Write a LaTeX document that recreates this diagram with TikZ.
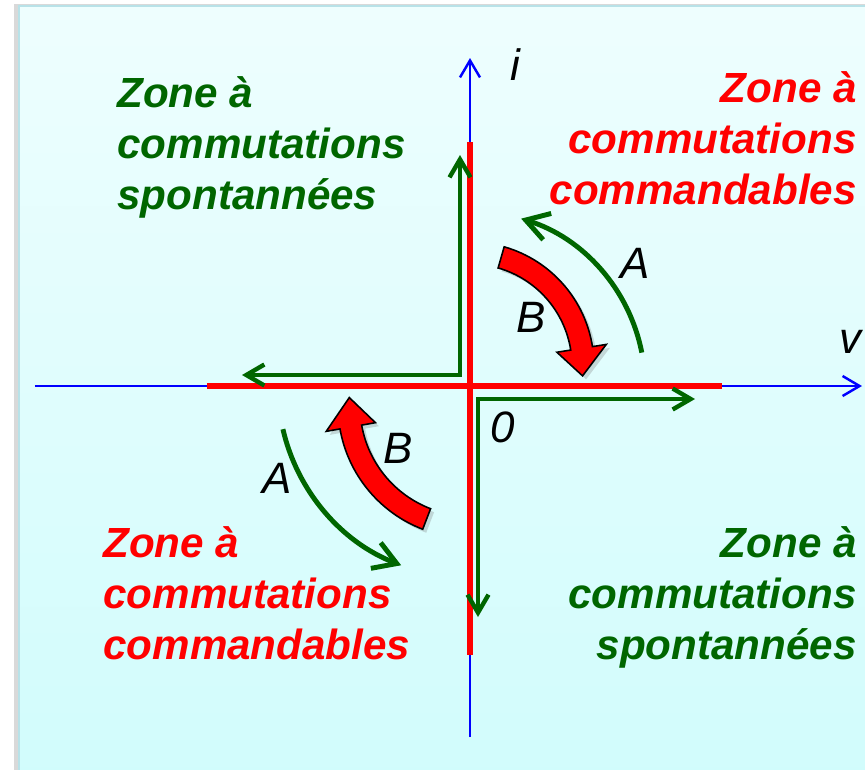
\documentclass[tikz,border=0pt]{standalone}
\usepackage{fontspec}
\setmainfont{Liberation Sans}
\usetikzlibrary{arrows.meta,shadows}

\definecolor{zonegreen}{RGB}{0,102,0}
\definecolor{paneltop}{RGB}{238,254,254}
\definecolor{panelbot}{RGB}{208,252,252}
\definecolor{paneledge}{RGB}{184,226,232}

\tikzset{
  axe/.style={blue, line width=1.4pt, -{Straight Barb[length=0.34cm,width=0.4cm]}},
  interr/.style={red, line width=3.4pt},
  trajet/.style={zonegreen, line width=2.5pt,
    {Straight Barb[length=0.36cm,width=0.42cm]}-{Straight Barb[length=0.36cm,width=0.42cm]}},
  sens/.style={zonegreen, line width=2.8pt, -{Straight Barb[length=0.45cm,width=0.55cm]}},
  zone/.style={font=\fontsize{24}{28.8}\selectfont\bfseries\itshape, inner sep=0pt, align=#1},
  lettre/.style={font=\fontsize{25}{30}\selectfont\itshape, inner sep=0pt},
  grossefleche/.style={fill=red, draw=black, line width=0.9pt,
    drop shadow={opacity=0.3, shadow xshift=2pt, shadow yshift=-2pt}},
}

% curved block arrow: radius, tail angle, head angle, tip angle
\newcommand\flechecourbe[4]{%
  \path[grossefleche] (#2:{#1+11}) arc[start angle=#2, end angle=#3, radius={#1+11}]
    -- (#3:{#1+25}) -- (#4:#1) -- (#3:{#1-25}) -- (#3:{#1-11})
    arc[start angle=#3, end angle=#2, radius={#1-11}] -- cycle;}

\begin{document}
\begin{tikzpicture}[x=0.02cm, y=0.02cm]
  \useasboundingbox (-470,-383) rectangle (395,386);
  \clip (-470,-383) rectangle (395,386);

  % panel
  \path[top color=paneltop, bottom color=panelbot, draw=paneledge, line width=1.2pt,
    drop shadow={opacity=0.3, shadow xshift=-3pt, shadow yshift=1pt}]
    (-451,380) rectangle (430,-420);

  \coordinate (O) at (0,0);
  \coordinate (vmin) at (-435,0);
  \coordinate (vmax) at (392,0);
  \coordinate (imin) at (0,-351);
  \coordinate (imax) at (0,328);

  % axes
  \draw[axe] (vmin) -- (vmax);
  \draw[axe] (imin) -- (imax);

  % switch characteristic
  \draw[interr] (-263,0) -- (252,0);
  \draw[interr] (0,244) -- (0,-269);

  % paths of the operating point
  \coordinate (c1) at (-10,11);
  \coordinate (c2) at (8,-13);
  \draw[trajet] (c1 |- 0,231) -- (c1) -- (-228,11);
  \draw[trajet] (225,-13) -- (c2) -- (c2 |- 0,-231);

  % transitions A
  \draw[sens] (11:175) arc[start angle=11, end angle=73, radius=175];
  \draw[sens] (193:192) arc[start angle=193, end angle=249, radius=192];

  % transitions B
  \begin{scope}[shift={(0,20)}]
    \flechecourbe{113}{74}{9}{-5}
  \end{scope}
  \begin{scope}[shift={(0,-20)}]
    \flechecourbe{121}{249}{190}{176}
  \end{scope}

  % labels
  \node[lettre] (li) at (45,321) {i};
  \node[lettre] (lv) at (380,44) {v};
  \node[lettre] (l0) at (33,-41) {0};
  \node[lettre] (aq1) at (165,123) {A};
  \node[lettre] (bq1) at (61,69) {B};
  \node[lettre] (aq3) at (-193,-92) {A};
  \node[lettre] (bq3) at (-72,-62) {B};

  \node[zone=left, zonegreen, anchor=base west] (zq2) at (-353,177)
    {Zone à\\commutations\\spontannées};
  \node[zone=right, red, anchor=base east] (zq1) at (387,182)
    {Zone à\\commutations\\commandables};
  \node[zone=left, red, anchor=base west] (zq3) at (-367,-273)
    {Zone à\\commutations\\commandables};
  \node[zone=right, zonegreen, anchor=base east] (zq4) at (387,-273)
    {Zone à\\commutations\\spontannées};
\end{tikzpicture}
\end{document}
